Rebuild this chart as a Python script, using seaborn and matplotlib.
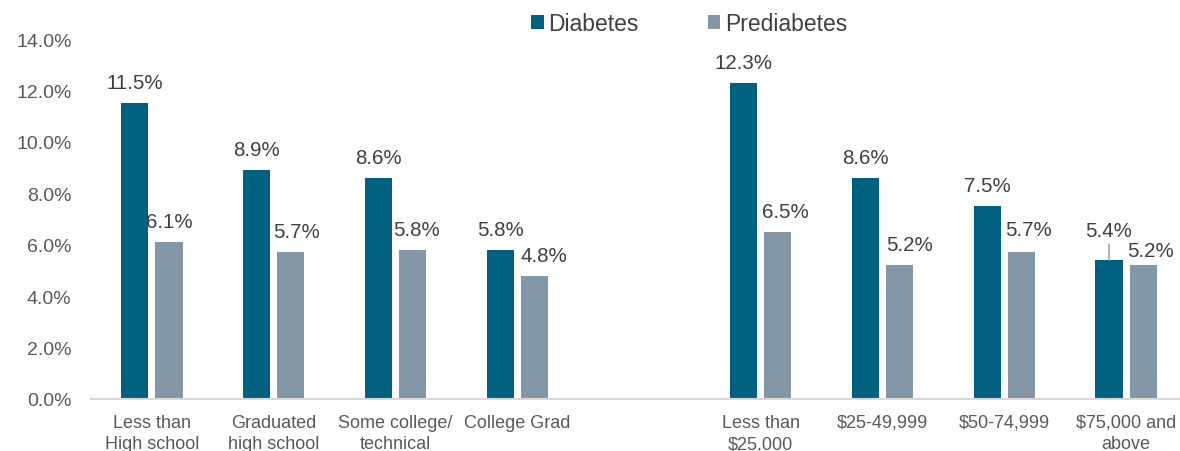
import numpy as np
import pandas as pd
import matplotlib
matplotlib.use("Agg")
import matplotlib.pyplot as plt
import seaborn as sns

# ---- data ----
categories = ["Less than\nHigh school", "Graduated\nhigh school", "Some college/\ntechnical",
              "College Grad", "Less than\n$25,000", "$25-49,999", "$50-74,999",
              "$75,000 and\nabove"]
diabetes = [11.5, 8.9, 8.6, 5.8, 12.3, 8.6, 7.5, 5.4]
prediabetes = [6.1, 5.7, 5.8, 4.8, 6.5, 5.2, 5.7, 5.2]
series_names = ["Diabetes", "Prediabetes"]
yticks = [0, 2, 4, 6, 8, 10, 12, 14]

# slot order with an empty gap between education and income groups
gap_label = " "
order = categories[:4] + [gap_label] + categories[4:]

df = pd.DataFrame({
    "category": categories * 2,
    "value": diabetes + prediabetes,
    "series": [series_names[0]] * len(categories) + [series_names[1]] * len(categories),
})

# ---- style ----
sns.set_theme(style="white")
plt.rcParams["font.family"] = ["Liberation Sans", "DejaVu Sans"]
colors = {"Diabetes": "#00607F", "Prediabetes": "#8497A6"}
label_color = "#404040"
tick_color = "#595959"
axis_color = "#D9D9D9"

fig = plt.figure(figsize=(11.8, 4.52), dpi=100)
ax = fig.add_axes([91 / 1180, 1 - 400 / 452, 1096 / 1180, 360 / 452])

sns.barplot(data=df, x="category", y="value", hue="series", order=order,
            hue_order=series_names, palette=colors, width=0.56, gap=0.2,
            saturation=1, edgecolor="none", ax=ax, legend=True)

ax.set_xlim(-0.5, len(order) - 0.5)
ax.set_ylim(0, 14)
ax.set_yticks(yticks)
ax.set_yticklabels([f"{v:.1f}%" for v in yticks], fontsize=14, color=tick_color)
ax.set_xlabel("")
ax.set_ylabel("")
ax.tick_params(axis="y", length=0, pad=14)
ax.tick_params(axis="x", which="major", length=0, pad=10.5, labelsize=13, labelcolor=tick_color)
for lbl in ax.get_xticklabels():
    lbl.set_linespacing(1.35)
ax.set_xticks(np.arange(-0.5, len(order), 1), minor=True)
ax.tick_params(axis="x", which="minor", length=6, width=1.5, color=axis_color, direction="out")
for s in ["left", "right", "top"]:
    ax.spines[s].set_visible(False)
ax.spines["bottom"].set_color(axis_color)
ax.spines["bottom"].set_linewidth(1.5)
ax.grid(False)

# label offsets (px) per category: (dx, dy)
diab_off = [(0, 15), (0, 15), (0, 15), (0, 15), (0, 15), (0, 15), (0, 15), (0, 24)]
pre_off = [(0, 15), (6, 15), (4, 15), (10, 15), (8, 15), (10, 15), (7, 17), (7, 9)]

def cat_index(xc):
    slot = int(round(xc))
    return slot if slot < 4 else slot - 1

for container, offs in zip(ax.containers, [diab_off, pre_off]):
    for bar in container:
        h = bar.get_height()
        if np.isnan(h):
            continue
        xc = bar.get_x() + bar.get_width() / 2
        i = cat_index(xc)
        dx, dy = offs[i]
        ax.annotate(f"{h:.1f}%", (xc, h), xytext=(dx * 0.72, dy * 0.72),
                    textcoords="offset points", ha="center", va="baseline",
                    fontsize=14.8, color=label_color, zorder=0.5)
        if dy > 20:
            ax.annotate("", (xc, h), xytext=(0, (dy - 8) * 0.72),
                        textcoords="offset points",
                        arrowprops=dict(arrowstyle="-", color="#A6A6A6", lw=1.2,
                                        shrinkA=0, shrinkB=0))

handles, labels = ax.get_legend_handles_labels()
ax.get_legend().remove()
fig.legend(handles, labels, loc="center", bbox_to_anchor=(0.584, 0.945),
           ncol=2, frameon=False, fontsize=16.5, labelcolor=label_color,
           handlelength=0.55, handleheight=0.55, handletextpad=0.2,
           columnspacing=3.0, borderpad=0)

fig.savefig("out.png", dpi=100)
